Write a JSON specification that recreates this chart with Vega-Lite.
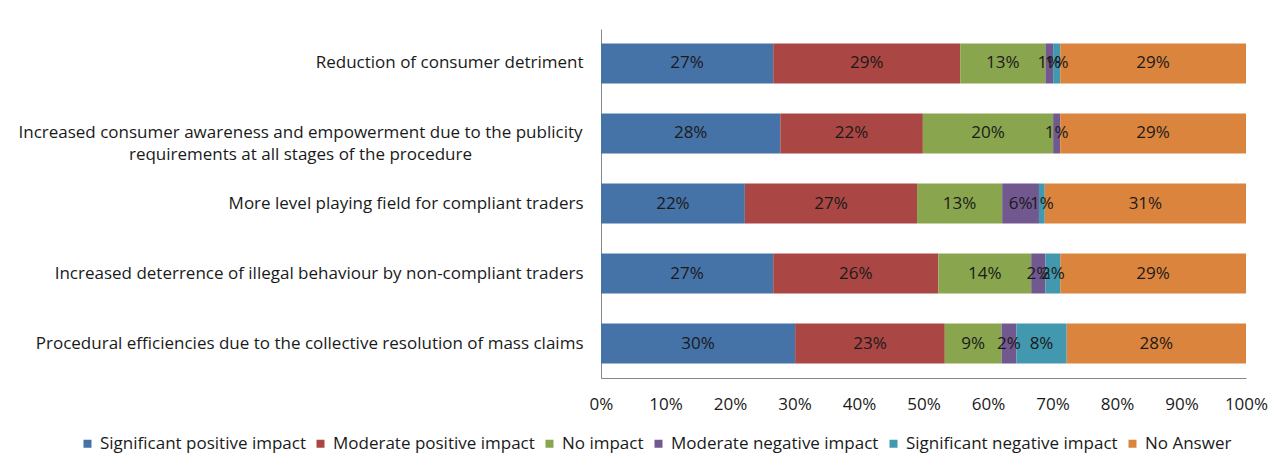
{
  "$schema": "https://vega.github.io/schema/vega-lite/v6.json",
  "width": 645,
  "height": 349,
  "autosize": "none",
  "padding": {"left": 601, "top": 29, "right": 41, "bottom": 93},
  "background": "white",
  "config": {
    "font": "Open Sans",
    "view": {"stroke": null},
    "axis": {"labelFont": "Open Sans", "labelFontSize": 17, "labelColor": "#1a1a1a", "domainColor": "#868686", "domainWidth": 1, "ticks": false, "grid": false, "title": null}
  },
  "data": {
    "values": [
      {"q": "Reduction of consumer detriment", "qo": 1, "cat": "Significant positive impact", "co": 1, "value": 0.267},
      {"q": "Reduction of consumer detriment", "qo": 1, "cat": "Moderate positive impact", "co": 2, "value": 0.290},
      {"q": "Reduction of consumer detriment", "qo": 1, "cat": "No impact", "co": 3, "value": 0.132},
      {"q": "Reduction of consumer detriment", "qo": 1, "cat": "Moderate negative impact", "co": 4, "value": 0.012},
      {"q": "Reduction of consumer detriment", "qo": 1, "cat": "Significant negative impact", "co": 5, "value": 0.011},
      {"q": "Reduction of consumer detriment", "qo": 1, "cat": "No Answer", "co": 6, "value": 0.288},
      {"q": "Increased consumer awareness", "qo": 2, "cat": "Significant positive impact", "co": 1, "value": 0.278},
      {"q": "Increased consumer awareness", "qo": 2, "cat": "Moderate positive impact", "co": 2, "value": 0.221},
      {"q": "Increased consumer awareness", "qo": 2, "cat": "No impact", "co": 3, "value": 0.202},
      {"q": "Increased consumer awareness", "qo": 2, "cat": "Moderate negative impact", "co": 4, "value": 0.011},
      {"q": "Increased consumer awareness", "qo": 2, "cat": "Significant negative impact", "co": 5, "value": 0.0},
      {"q": "Increased consumer awareness", "qo": 2, "cat": "No Answer", "co": 6, "value": 0.288},
      {"q": "More level playing field for compliant traders", "qo": 3, "cat": "Significant positive impact", "co": 1, "value": 0.223},
      {"q": "More level playing field for compliant traders", "qo": 3, "cat": "Moderate positive impact", "co": 2, "value": 0.267},
      {"q": "More level playing field for compliant traders", "qo": 3, "cat": "No impact", "co": 3, "value": 0.132},
      {"q": "More level playing field for compliant traders", "qo": 3, "cat": "Moderate negative impact", "co": 4, "value": 0.057},
      {"q": "More level playing field for compliant traders", "qo": 3, "cat": "Significant negative impact", "co": 5, "value": 0.009},
      {"q": "More level playing field for compliant traders", "qo": 3, "cat": "No Answer", "co": 6, "value": 0.312},
      {"q": "Increased deterrence of illegal behaviour by non-compliant traders", "qo": 4, "cat": "Significant positive impact", "co": 1, "value": 0.267},
      {"q": "Increased deterrence of illegal behaviour by non-compliant traders", "qo": 4, "cat": "Moderate positive impact", "co": 2, "value": 0.256},
      {"q": "Increased deterrence of illegal behaviour by non-compliant traders", "qo": 4, "cat": "No impact", "co": 3, "value": 0.144},
      {"q": "Increased deterrence of illegal behaviour by non-compliant traders", "qo": 4, "cat": "Moderate negative impact", "co": 4, "value": 0.022},
      {"q": "Increased deterrence of illegal behaviour by non-compliant traders", "qo": 4, "cat": "Significant negative impact", "co": 5, "value": 0.023},
      {"q": "Increased deterrence of illegal behaviour by non-compliant traders", "qo": 4, "cat": "No Answer", "co": 6, "value": 0.288},
      {"q": "Procedural efficiencies due to the collective resolution of mass claims", "qo": 5, "cat": "Significant positive impact", "co": 1, "value": 0.301},
      {"q": "Procedural efficiencies due to the collective resolution of mass claims", "qo": 5, "cat": "Moderate positive impact", "co": 2, "value": 0.232},
      {"q": "Procedural efficiencies due to the collective resolution of mass claims", "qo": 5, "cat": "No impact", "co": 3, "value": 0.088},
      {"q": "Procedural efficiencies due to the collective resolution of mass claims", "qo": 5, "cat": "Moderate negative impact", "co": 4, "value": 0.023},
      {"q": "Procedural efficiencies due to the collective resolution of mass claims", "qo": 5, "cat": "Significant negative impact", "co": 5, "value": 0.078},
      {"q": "Procedural efficiencies due to the collective resolution of mass claims", "qo": 5, "cat": "No Answer", "co": 6, "value": 0.278}
    ]
  },
  "transform": [
    {"stack": "value", "groupby": ["q"], "sort": [{"field": "co", "order": "ascending"}], "as": ["v0", "v1"]},
    {"calculate": "(datum.v0 + datum.v1) / 2", "as": "mid"}
  ],
  "encoding": {
    "y": {
      "field": "q",
      "type": "nominal",
      "sort": {"field": "qo", "op": "min", "order": "ascending"},
      "scale": {"paddingInner": 0.4286, "paddingOuter": 0.207},
      "axis": {
        "labelPadding": {"condition": {"test": "datum.value == 'Increased consumer awareness'", "value": 301}, "value": 18},
        "labelAlign": {"condition": {"test": "datum.value == 'Increased consumer awareness'", "value": "center"}, "value": "right"},
        "labelLimit": 0,
        "labelLineHeight": 22,
        "labelExpr": "datum.value == 'Increased consumer awareness' ? ['Increased consumer awareness and empowerment due to the publicity', 'requirements at all stages of the procedure'] : datum.value"
      }
    }
  },
  "layer": [
    {
      "mark": {"type": "bar"},
      "encoding": {
        "x": {
          "field": "v0",
          "type": "quantitative",
          "scale": {"domain": [0, 1], "nice": false},
          "axis": {"format": ".0%", "values": [0, 0.1, 0.2, 0.3, 0.4, 0.5, 0.6, 0.7, 0.8, 0.9, 1], "labelPadding": 18, "labelFlush": false}
        },
        "x2": {"field": "v1"},
        "color": {
          "field": "cat",
          "type": "nominal",
          "scale": {
            "domain": ["Significant positive impact", "Moderate positive impact", "No impact", "Moderate negative impact", "Significant negative impact", "No Answer"],
            "range": ["#4572A7", "#AA4643", "#89A54E", "#71588F", "#4198AF", "#DB843D"]
          },
          "legend": {
            "title": null,
            "orient": "none",
            "direction": "horizontal",
            "legendX": -522,
            "legendY": 406,
            "symbolType": "square",
            "symbolSize": 64,
            "symbolStrokeWidth": 0,
            "symbolOpacity": 1,
            "labelFont": "Open Sans",
            "labelFontSize": 17,
            "labelColor": "#1a1a1a",
            "labelOffset": 4,
            "columnPadding": 6,
            "labelLimit": 0
          }
        }
      }
    },
    {
      "transform": [{"filter": "datum.value > 0"}],
      "mark": {"type": "text", "font": "Open Sans", "fontSize": 17, "color": "#1a1a1a", "align": "center", "baseline": "middle"},
      "encoding": {
        "x": {"field": "mid", "type": "quantitative"},
        "text": {"field": "value", "type": "quantitative", "format": ".0%"}
      }
    }
  ]
}
